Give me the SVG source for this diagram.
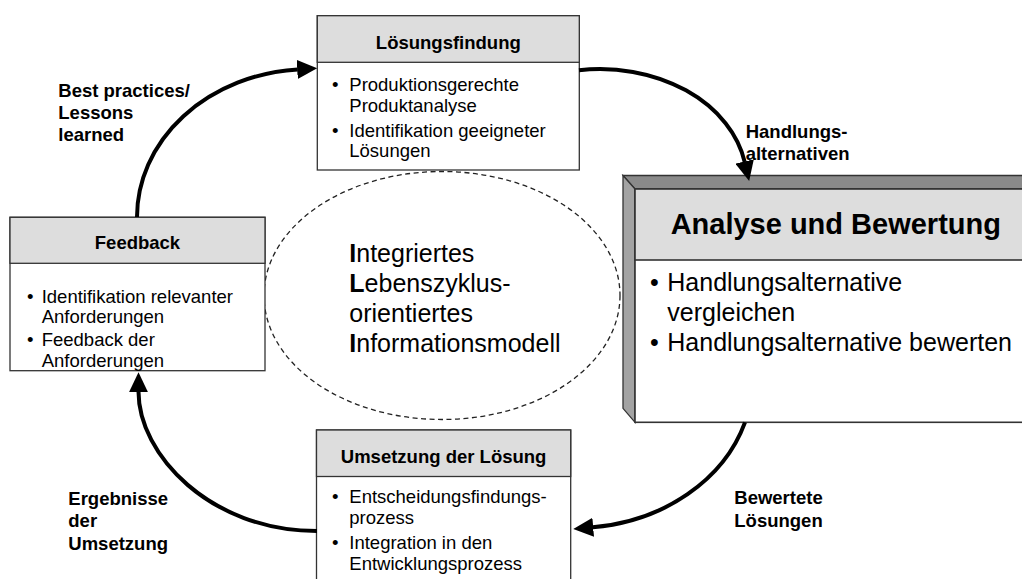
<svg xmlns="http://www.w3.org/2000/svg" width="1022" height="579" viewBox="0 0 1022 579">
  <style>
    text { font-family: "Liberation Sans", Arial, sans-serif; fill: #000; }
    .t { font-size: 18.5px; font-weight: bold; text-anchor: middle; }
    .s { font-size: 18.5px; }
    .lbl { font-size: 18.5px; font-weight: bold; }
    .big { font-size: 25px; }
    .bigt { font-size: 29px; font-weight: bold; text-anchor: middle; }
    .head { fill: #dddddd; stroke: #333; stroke-width: 1.3; }
    .body { fill: #ffffff; stroke: #333; stroke-width: 1.3; }
    .arc { fill: none; stroke: #000; stroke-width: 4; marker-end: url(#head); }
  </style>
  <defs>
    <marker id="head" markerUnits="userSpaceOnUse" viewBox="0 0 20 19" markerWidth="20" markerHeight="19" refX="0.5" refY="9.5" orient="auto">
      <path d="M0,0 L20,9.5 L0,19 Z" fill="#000"/>
    </marker>
  </defs>

  <rect width="1022" height="579" fill="#ffffff"/>

  <!-- central model -->
  <g id="model">
    <ellipse cx="442" cy="295.5" rx="178" ry="124" fill="none" stroke="#222" stroke-width="1.3" stroke-dasharray="5 3.5"/>
    <text class="big">
      <tspan x="349.3" y="261.7"><tspan font-weight="bold">I</tspan>ntegriertes</tspan>
      <tspan x="349.3" y="292.3"><tspan font-weight="bold">L</tspan>ebenszyklus-</tspan>
      <tspan x="349.3" y="322.3">orientiertes</tspan>
      <tspan x="349.3" y="352.3"><tspan font-weight="bold">I</tspan>nformationsmodell</tspan>
    </text>
  </g>

  <!-- Lösungsfindung -->
  <g id="loesungsfindung">
    <rect class="body" x="317.3" y="15.7" width="262" height="154.3"/>
    <rect class="head" x="317.3" y="15.7" width="262" height="46.6"/>
    <text class="t" x="448.3" y="49.3">Lösungsfindung</text>
    <text class="s">
      <tspan x="332" y="90.7">•</tspan><tspan x="349.3">Produktionsgerechte</tspan>
      <tspan x="349.3" y="111.7">Produktanalyse</tspan>
      <tspan x="332" y="136.7">•</tspan><tspan x="349.3">Identifikation geeigneter</tspan>
      <tspan x="349.3" y="157.3">Lösungen</tspan>
    </text>
  </g>

  <!-- Feedback -->
  <g id="feedback">
    <rect class="body" x="10" y="217.3" width="255" height="153.4"/>
    <rect class="head" x="10" y="217.3" width="255" height="46"/>
    <text class="t" x="137.5" y="249.3">Feedback</text>
    <text class="s">
      <tspan x="27" y="302.7">•</tspan><tspan x="41.7">Identifikation relevanter</tspan>
      <tspan x="41.7" y="322.7">Anforderungen</tspan>
      <tspan x="27" y="346">•</tspan><tspan x="41.7">Feedback der</tspan>
      <tspan x="41.7" y="366.7">Anforderungen</tspan>
    </text>
  </g>

  <!-- Umsetzung der Lösung -->
  <g id="umsetzung">
    <rect class="body" x="316.5" y="430" width="254.2" height="170"/>
    <rect class="head" x="316.5" y="430" width="254.2" height="46.5"/>
    <text class="t" x="443.6" y="463.3">Umsetzung der Lösung</text>
    <text class="s">
      <tspan x="332" y="503.3">•</tspan><tspan x="349.3">Entscheidungsfindungs-</tspan>
      <tspan x="349.3" y="524">prozess</tspan>
      <tspan x="332" y="549.3">•</tspan><tspan x="349.3">Integration in den</tspan>
      <tspan x="349.3" y="570">Entwicklungsprozess</tspan>
    </text>
  </g>

  <!-- Analyse und Bewertung (raised panel) -->
  <g id="analyse">
    <polygon points="623,175.5 1040,175.5 1040,189 635,189" fill="#8a8a8a" stroke="#333" stroke-width="1.3"/>
    <polygon points="623,175.5 635,189 635,422.3 623,408.3" fill="#a3a3a3" stroke="#333" stroke-width="1.3"/>
    <rect x="635" y="189" width="401" height="233.3" fill="#ffffff" stroke="#333" stroke-width="1.6"/>
    <rect x="635" y="189" width="401" height="71" fill="#dddddd" stroke="#333" stroke-width="1.6"/>
    <text class="bigt" x="835.8" y="234">Analyse und Bewertung</text>
    <text class="big">
      <tspan x="650" y="290.7">•</tspan><tspan x="667.3">Handlungsalternative</tspan>
      <tspan x="667.3" y="321">vergleichen</tspan>
      <tspan x="650" y="350.7">•</tspan><tspan x="667.3">Handlungsalternative bewerten</tspan>
    </text>
  </g>

  <!-- cycle arrows -->
  <g id="connectors">
    <path class="arc" d="M137,217 A173,148 0 0 1 297.7,69.4"/>
    <path class="arc" d="M579,70.2 A147,113 0 0 1 744.7,162"/>
    <path class="arc" d="M745,422.4 A178,150 0 0 1 592.7,527.3"/>
    <path class="arc" d="M317,531 C210,531 138.5,454.4 138.5,391.7"/>
  </g>

  <!-- arrow labels -->
  <g id="labels">
    <text class="lbl"><tspan x="58.3" y="96.7">Best practices/</tspan><tspan x="58.3" y="118.5">Lessons</tspan><tspan x="58.3" y="140.7">learned</tspan></text>
    <text class="lbl"><tspan x="745.7" y="138.3">Handlungs-</tspan><tspan x="745.7" y="160">alternativen</tspan></text>
    <text class="lbl"><tspan x="734.3" y="504.3">Bewertete</tspan><tspan x="734.3" y="526.7">Lösungen</tspan></text>
    <text class="lbl"><tspan x="68.3" y="505">Ergebnisse</tspan><tspan x="68.3" y="527">der</tspan><tspan x="68.3" y="549.5">Umsetzung</tspan></text>
  </g>
</svg>
